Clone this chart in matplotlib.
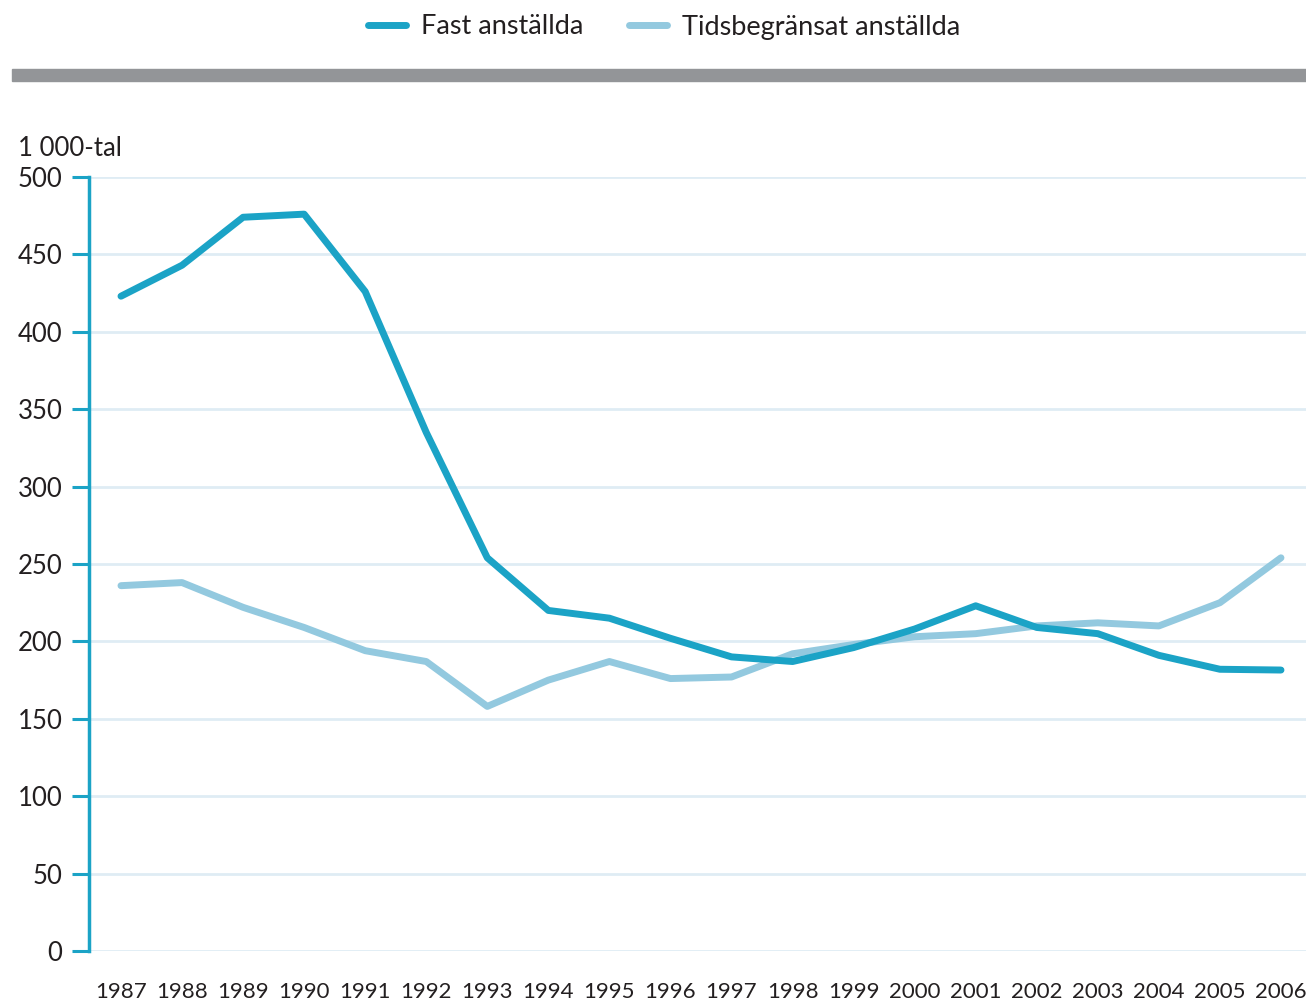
import matplotlib
matplotlib.use("Agg")
import matplotlib.pyplot as plt
from matplotlib.patches import Rectangle
from matplotlib.lines import Line2D

years = list(range(1987, 2007))
fast = [423, 443, 474, 476, 426, 335, 254, 220, 215, 202,
        190, 187, 196, 208, 223, 209, 205, 191, 182, 181.5]
tids = [236, 238, 222, 209, 194, 187, 158, 175, 187, 176,
        177, 192, 198, 203, 205, 210, 212, 210, 225, 254]
yticks = [0, 50, 100, 150, 200, 250, 300, 350, 400, 450, 500]
labels = ["Fast anställda", "Tidsbegränsat anställda"]

dark = "#1ba3c6"
light = "#93c9df"
grid_c = "#dfecf4"
text_c = "#231f20"

plt.rcParams['font.family'] = ['Lato', 'DejaVu Sans']

fig = plt.figure(figsize=(13.06, 10), dpi=100)
ax = fig.add_axes([89 / 1306, 49 / 1000, 1 - 89 / 1306, 774 / 1000])

for yt in yticks:
    ax.axhline(yt, color=grid_c, lw=2, zorder=1)

ax.plot(years, fast, color=dark, lw=5, solid_capstyle="round",
        solid_joinstyle="round", zorder=3)
ax.plot(years, tids, color=light, lw=5, solid_capstyle="round",
        solid_joinstyle="round", zorder=2)

ax.set_ylim(0, 500)
ax.set_xlim(1986.476, 2006.41)
ax.set_yticks(yticks)
ax.set_xticks(years)
ax.set_xticklabels([str(y) for y in years], fontsize=16, color=text_c)
ax.set_yticklabels([str(y) for y in yticks], fontsize=18.5, color=text_c)
ax.tick_params(axis="y", length=12, width=2.2, color=dark, pad=7)
ax.tick_params(axis="x", length=0, pad=22)

for s in ["top", "right", "bottom"]:
    ax.spines[s].set_visible(False)
ax.spines["left"].set_color(dark)
ax.spines["left"].set_linewidth(2.5)
ax.spines["left"].set_zorder(4)

fig.text(18 / 1306, 1 - 148 / 1000, "1 000-tal", fontsize=18.5, color=text_c,
         va="center", ha="left")

# gray bar under legend
fig.patches.append(Rectangle((12 / 1306, 1 - 81 / 1000), 1, 12 / 1000,
                             transform=fig.transFigure, color="#939598",
                             zorder=0))

handles = [Line2D([], [], color=dark, lw=5, solid_capstyle="round"),
           Line2D([], [], color=light, lw=5, solid_capstyle="round")]
fig.legend(handles, labels, loc="center", bbox_to_anchor=(0.5084, 1 - 27 / 1000),
           ncol=2, frameon=False, fontsize=19.5, handlelength=1.4,
           columnspacing=1.7, handletextpad=0.55, labelcolor=text_c)

fig.savefig("out.png", dpi=100)
